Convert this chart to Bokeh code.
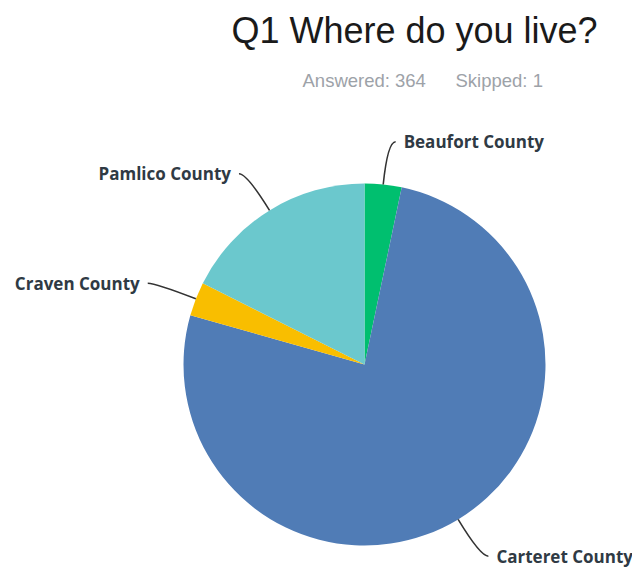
import math
from bokeh.plotting import figure
from bokeh.models import Range1d, ColumnDataSource
from bokeh.core.properties import value
from bokeh.embed import file_html
from bokeh.resources import INLINE

# ---- data ----
labels = ["Beaufort County", "Carteret County", "Craven County", "Pamlico County"]
counts = [12, 277, 11, 64]
colors = ["#00BF6F", "#507CB6", "#F9BE00", "#6BC8CD"]
title_text = "Q1 Where do you live?"
answered_text = "Answered: 364"
skipped_text = "Skipped: 1"

W, H = 632, 570
p = figure(width=W, height=H, output_backend="svg", toolbar_location=None,
           x_range=Range1d(0, W), y_range=Range1d(570 - H, 570),
           min_border=0, outline_line_color=None, background_fill_color="white",
           border_fill_color="white")
p.axis.visible = False
p.grid.visible = False

cx, cy, r = 364, 570 - 364, 181
total = sum(counts)
starts, ends, mids = [], [], []
cum = 0.0
for c in counts:
    a0 = math.pi / 2 - 2 * math.pi * cum / total
    cum += c
    a1 = math.pi / 2 - 2 * math.pi * cum / total
    starts.append(a0)
    ends.append(a1)
    mids.append((a0 + a1) / 2)

src = ColumnDataSource(dict(start=starts, end=ends, color=colors, label=labels))
p.wedge(x=cx, y=cy, radius=r, start_angle="start", end_angle="end",
        direction="clock", fill_color="color", line_color=None, source=src)

# leader lines and labels
lx0, ly0, lx1, ly1, lcx, lcy = [], [], [], [], [], []
tx, ty, talign = [], [], []
re = 224
for m in mids:
    ax, ay = cx + r * math.cos(m), cy + r * math.sin(m)
    ex, ey = cx + re * math.cos(m), cy + re * math.sin(m)
    side = 1 if math.cos(m) >= 0 else -1
    txp = ex + side * 8
    lx0.append(ax); ly0.append(ay)
    lcx.append(ex); lcy.append(ey)
    lx1.append(txp); ly1.append(ey)
    tx.append(txp + side * 8); ty.append(ey)
    talign.append("left" if side > 0 else "right")

p.quadratic(x0=lx0, y0=ly0, x1=lx1, y1=ly1, cx=lcx, cy=lcy,
            line_color="#333333", line_width=1.6)
p.text(x=tx, y=ty, text=labels, text_align=talign, text_baseline="middle",
       text_font=value("Open Sans"), text_font_style="bold",
       text_font_size="17px", text_color="#2f3a44")

# title and subtitle
p.text(x=[414], y=[570 - 30], text=[title_text], text_align="center",
       text_baseline="middle", text_font=value("Liberation Sans"),
       text_font_size="36px", text_color="#1a1a1a")
p.text(x=[302], y=[570 - 80], text=[answered_text], text_align="left",
       text_baseline="middle", text_font=value("Liberation Sans"),
       text_font_size="18.5px", text_color="#9da2a8")
p.text(x=[455], y=[570 - 80], text=[skipped_text], text_align="left",
       text_baseline="middle", text_font=value("Liberation Sans"),
       text_font_size="18.5px", text_color="#9da2a8")

open("out.html", "w").write(file_html(p, INLINE))
